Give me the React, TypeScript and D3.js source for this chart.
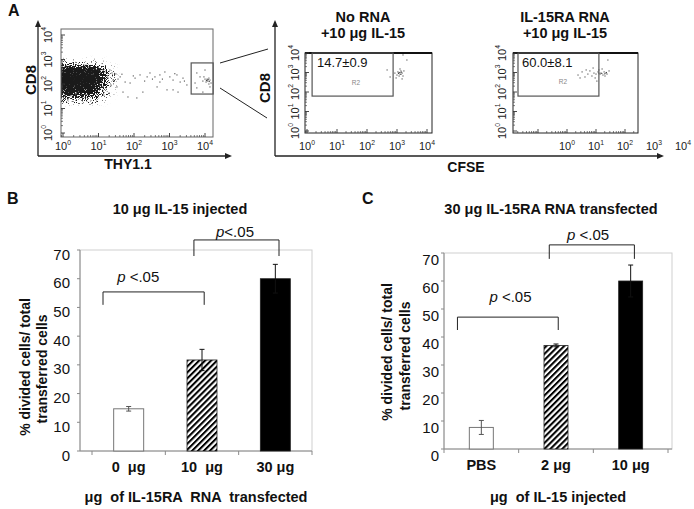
import React from 'react';
import * as d3 from 'd3';

const FONT = '"Liberation Sans", Arial, Helvetica, sans-serif';
const W = 694;
const H = 509;

// ---------- Panel B data ----------
const bCategories = ['0  μg', '10  μg', '30 μg'];
const bValues = [14.7, 31.7, 60.0];
const bErrors = [0.8, 3.7, 5.0];
const bBrackets = [
  { from: -0.35, to: 1.03, top: 55.4, leg: 50.9, label: ' <.05', at: 0.13, labelVal: 58.9 },
  { from: 0.89, to: 2.05, top: 73.5, leg: 67.9, label: '<.05', at: 1.45, labelVal: 74.5 },
];

// ---------- Panel C data ----------
const cCategories = ['PBS', '2 μg', '10 μg'];
const cValues = [7.7, 37.0, 60.0];
const cErrors = [2.5, 0.5, 5.7];
const cBrackets = [
  { from: -0.32, to: 1.03, top: 47.1, leg: 42.5, label: ' <.05', at: 0.39, labelVal: 52.5 },
  { from: 0.91, to: 2.05, top: 72.9, leg: 67.9, label: ' <.05', at: 1.43, labelVal: 74.6 },
];

const yTickValues = [0, 10, 20, 30, 40, 50, 60, 70];
const barStyles = ['open', 'hatch', 'solid'];

// ---------- Panel A data (log10 values) ----------
const decades = [0, 1, 2, 3, 4];
const cloudXStarts = [-0.25, 0, 0.25, 0.5, 0.75, 1.0, 1.25];
const cloudYStarts = [2.75, 2.5, 2.25, 2.0, 1.75, 1.5, 1.25];
const cloudDensity = [
  [0.15, 0.15, 0.15, 0.15, 0.1, 0.05, 0],
  [0.9, 0.9, 0.95, 0.95, 0.9, 0.5, 0.12],
  [1, 1, 1, 1, 1, 0.7, 0.2],
  [1, 1, 1, 1, 1, 0.7, 0.2],
  [0.95, 0.95, 0.95, 0.95, 0.9, 0.5, 0.1],
  [0.85, 0.85, 0.85, 0.85, 0.8, 0.35, 0.05],
  [0.4, 0.4, 0.4, 0.4, 0.35, 0.12, 0],
];
const thyTrail: [number, number][] = [
  [1.27, 2.24], [1.41, 2.16], [1.61, 2.29], [1.75, 2.08], [1.89, 2.04], [2.03, 2.24],
  [2.17, 2.37], [2.37, 2.29], [2.45, 2.45], [2.59, 2.29], [2.73, 2.37], [2.87, 2.49],
  [3.01, 2.29], [3.1, 2.16], [3.21, 2.37], [3.3, 2.08], [3.38, 2.24], [3.49, 1.96],
  [1.83, 1.47], [2.08, 1.43], [2.25, 1.67], [1.69, 1.67], [1.52, 1.88], [2.65, 1.88],
  [2.93, 1.76], [3.1, 1.76], [3.24, 1.67], [2.73, 2.08], [1.18, 2.49], [1.32, 2.57],
  [1.21, 1.84], [1.35, 1.96], [1.49, 2.41], [1.15, 1.55], [1.3, 1.63],
  [1.25, 2.33], [1.38, 2.45], [1.45, 2.12], [1.55, 2.2], [1.66, 2.4], [1.98, 2.33],
  [2.3, 2.12], [2.52, 2.2], [2.8, 2.2], [3.15, 2.42], [3.42, 2.12],
];
const thyGated: [number, number][] = [
  [4.0, 2.2], [4.06, 2.16], [4.11, 2.24], [4.03, 2.08], [4.08, 2.12], [4.14, 2.16],
  [3.97, 2.29], [4.17, 2.04], [3.94, 2.12], [4.11, 2.0], [3.77, 2.45], [3.77, 1.84],
  [3.94, 1.67], [4.14, 1.88], [4.0, 2.57], [3.86, 2.29], [3.72, 2.04], [4.06, 2.2],
  [4.09, 2.18], [4.04, 2.14], [4.12, 2.1],
];
const noRnaPoints: [number, number][] = [
  [3.03, 3.03], [3.1, 2.92], [3.13, 3.08], [3.07, 2.82], [3.17, 2.97], [3.0, 2.87],
  [3.2, 2.82], [3.1, 3.18], [2.97, 2.72], [3.23, 3.08], [2.93, 2.97], [3.17, 2.67],
  [2.67, 3.13], [2.77, 2.77], [3.2, 3.9], [3.33, 3.64], [3.07, 3.0], [3.13, 2.9],
  [3.1, 3.0], [3.05, 2.95], [3.15, 3.02],
];
const il15raPoints: [number, number][] = [
  [0.38, 2.87], [0.52, 3.03], [0.62, 2.77], [0.72, 2.92], [0.79, 3.08], [0.86, 2.82],
  [0.93, 2.97], [1.0, 2.92], [1.07, 3.03], [1.14, 2.92], [1.17, 2.97], [1.24, 2.87],
  [1.28, 3.03], [1.34, 2.97], [1.38, 2.92], [0.97, 2.72], [1.1, 3.13], [1.21, 3.18],
  [1.31, 2.82], [1.03, 2.56], [0.9, 3.23], [1.45, 3.08], [1.41, 3.64], [0.66, 3.13],
  [0.45, 2.72], [1.2, 2.95], [1.36, 3.0], [1.1, 2.97], [1.3, 2.93],
];
const gateLabels = ['14.7±0.9', '60.0±8.1'];

// ---------- helpers ----------
type Geo = {
  axisX: number; band: [number, number]; y0: number; y70: number; frameRight: number;
  barW: number; tickDx: number; labelDy: number; catY: number;
};

function BarPanel({ cats, vals, errs, brackets, g, pid }: any) {
  const geo: Geo = g;
  const y = d3.scaleLinear().domain([0, 70]).range([geo.y0, geo.y70]);
  const step = (geo.band[1] - geo.band[0]) / cats.length;
  const pad = 1 - geo.barW / step;
  const x = d3.scaleBand<string>().domain(cats).range(geo.band).paddingInner(pad).paddingOuter(pad / 2);
  const bw = x.bandwidth();
  const cx = (i: number) => (x(cats[i]) as number) + bw / 2;
  const idx = d3.scaleLinear().domain([0, cats.length - 1]).range([cx(0), cx(cats.length - 1)]);
  const tickXs = d3.range(cats.length + 1).map((k) => geo.band[0] + k * step);
  return (
    <g>
      <defs>
        <pattern id={pid} patternUnits="userSpaceOnUse" width={4.2} height={4.2} patternTransform="rotate(45)">
          <rect width={4.2} height={4.2} fill="white" />
          <line x1={1} y1={0} x2={1} y2={4.2} stroke="black" strokeWidth={2.1} />
        </pattern>
      </defs>
      <rect x={geo.axisX} y={y(70)} width={geo.frameRight - geo.axisX} height={y(0) - y(70)}
        fill="none" stroke="#cfcfcf" strokeWidth={1} />
      <line x1={geo.axisX} x2={geo.axisX} y1={y(0)} y2={y(70)} stroke="#8a8a8a" />
      {yTickValues.map((t) => (
        <g key={t}>
          <line x1={geo.axisX - 3} x2={geo.axisX} y1={y(t)} y2={y(t)} stroke="#8a8a8a" />
          <text x={geo.axisX - geo.tickDx} y={y(t) + geo.labelDy} textAnchor="end"
            dominantBaseline="central" fontSize={15} fill="#111">{t}</text>
        </g>
      ))}
      <line x1={geo.axisX} x2={geo.frameRight} y1={y(0)} y2={y(0)} stroke="#8a8a8a" />
      {tickXs.map((tx, i) => (
        <line key={i} x1={tx} x2={tx} y1={y(0)} y2={y(0) + 4} stroke="#8a8a8a" />
      ))}
      {vals.map((v: number, i: number) => {
        const st = barStyles[i];
        const fill = st === 'open' ? 'white' : st === 'hatch' ? `url(#${pid})` : 'black';
        const stroke = st === 'open' ? '#777' : '#222';
        return (
          <rect key={i} x={x(cats[i])} y={y(v)} width={bw} height={y(0) - y(v)}
            fill={fill} stroke={stroke} strokeWidth={st === 'open' ? 1 : 0.8} />
        );
      })}
      {vals.map((v: number, i: number) => {
        const e = errs[i];
        const c = cx(i);
        const col = barStyles[i] === 'open' ? '#555' : '#111';
        return (
          <g key={i} stroke={col} strokeWidth={1}>
            <line x1={c} x2={c} y1={y(v + e)} y2={y(v - e)} />
            <line x1={c - 2.5} x2={c + 2.5} y1={y(v + e)} y2={y(v + e)} />
            <line x1={c - 2.5} x2={c + 2.5} y1={y(v - e)} y2={y(v - e)} />
          </g>
        );
      })}
      {brackets.map((b: any, i: number) => (
        <g key={i}>
          <path d={`M${idx(b.from)},${y(b.leg)}V${y(b.top)}H${idx(b.to)}V${y(b.leg)}`}
            fill="none" stroke="#222" strokeWidth={1} />
          <text x={idx(b.at)} y={y(b.labelVal)} textAnchor="middle" fontSize={15} fill="#111"
            style={{ whiteSpace: 'pre' }}>
            <tspan fontStyle="italic">p</tspan>{b.label}
          </text>
        </g>
      ))}
      {cats.map((c: string, i: number) => (
        <text key={c} x={cx(i)} y={geo.catY} textAnchor="middle" fontSize={14.5} fontWeight="bold"
          fill="#111" style={{ whiteSpace: 'pre' }}>{c}</text>
      ))}
    </g>
  );
}

function Sup({ k, size }: { k: number; size: number }) {
  return (
    <>
      <tspan>10</tspan>
      <tspan dy={-size * 0.45} fontSize={size * 0.62}>{k}</tspan>
    </>
  );
}

function FlowPlot({ xRange, yRange, frame, gate, points, xLabelY, yLabelX, xLabelDecades,
  children, gateText, textPos, r2Pos, thickTop, frameColor }: any) {
  const x = d3.scaleLog().domain([1, 1e4]).range(xRange);
  const y = d3.scaleLog().domain([1, 1e4]).range(yRange);
  const px = (d: number) => x(Math.pow(10, d));
  const py = (d: number) => y(Math.pow(10, d));
  const minorX: number[] = [];
  const majorX: number[] = [];
  for (let k = -3; k <= 4; k++) {
    const p = px(k);
    if (p >= frame.x1 - 0.5 && p <= frame.x2 + 0.5) majorX.push(p);
    for (let m = 2; m <= 9; m++) {
      const q = px(k + Math.log10(m));
      if (q >= frame.x1 && q <= frame.x2) minorX.push(q);
    }
  }
  const minorY: number[] = [];
  const majorY: number[] = [];
  for (let k = 0; k <= 4; k++) {
    majorY.push(py(k));
    if (k < 4) for (let m = 2; m <= 9; m++) minorY.push(py(k + Math.log10(m)));
  }
  return (
    <g>
      {children && children(px, py)}
      {points.map((p: [number, number], i: number) => (
        <rect key={i} x={px(p[0]) - 0.55} y={py(p[1]) - 0.55} width={1.1} height={1.1} fill="#444" />
      ))}
      <rect x={frame.x1} y={frame.y1} width={frame.x2 - frame.x1} height={frame.y2 - frame.y1}
        fill="none" stroke={frameColor} strokeWidth={1} />
      {thickTop && <line x1={frame.x1} x2={frame.x2} y1={frame.y1} y2={frame.y1} stroke="#111" strokeWidth={2} />}
      {minorX.map((q, i) => (<line key={i} x1={q} x2={q} y1={frame.y2} y2={frame.y2 - 2} stroke="#444" strokeWidth={0.7} />))}
      {majorX.map((q, i) => (<line key={i} x1={q} x2={q} y1={frame.y2} y2={frame.y2 - 4} stroke="#333" strokeWidth={0.9} />))}
      {minorY.map((q, i) => (<line key={i} x1={frame.x1} x2={frame.x1 + 2} y1={q} y2={q} stroke="#444" strokeWidth={0.7} />))}
      {majorY.map((q, i) => (<line key={i} x1={frame.x1} x2={frame.x1 + 4} y1={q} y2={q} stroke="#333" strokeWidth={0.9} />))}
      <rect x={px(gate.x1)} y={py(gate.y2)} width={px(gate.x2) - px(gate.x1)} height={py(gate.y1) - py(gate.y2)}
        fill="none" stroke="#555" strokeWidth={1.2} />
      {gateText && (
        <text x={textPos[0]} y={textPos[1]} fontSize={13} fill="#111">{gateText}</text>
      )}
      {r2Pos && (
        <text x={r2Pos[0]} y={r2Pos[1]} fontSize={6.5} fill="#888" textAnchor="middle">R2</text>
      )}
      {(xLabelDecades as number[]).map((k) => (
        <text key={k} x={px(k)} y={xLabelY} textAnchor="middle" fontSize={11} fill="#222">
          <Sup k={k} size={11} />
        </text>
      ))}
      {decades.map((k) => (
        <g key={k} transform={`translate(${yLabelX},${py(k)}) rotate(-90)`}>
          <text x={0} y={0} textAnchor="middle" dominantBaseline="central" fontSize={11} fill="#222">
            <Sup k={k} size={11} />
          </text>
        </g>
      ))}
    </g>
  );
}

function Arrow({ x1, y1, x2, y2 }: any) {
  const ang = Math.atan2(y2 - y1, x2 - x1);
  const L = 7, Wd = 3;
  const bx = x2 - L * Math.cos(ang), by = y2 - L * Math.sin(ang);
  const nx = -Math.sin(ang) * Wd, ny = Math.cos(ang) * Wd;
  return (
    <g>
      <line x1={x1} y1={y1} x2={bx} y2={by} stroke="#222" strokeWidth={1.3} />
      <path d={`M${x2},${y2}L${bx + nx},${by + ny}L${bx - nx},${by - ny}Z`} fill="#222" />
    </g>
  );
}

export default function App() {
  const leftFrame = { x1: 61, x2: 213, y1: 29, y2: 137 };
  const midFrame = { x1: 305, x2: 432, y1: 53, y2: 133 };
  const rightFrame = { x1: 513, x2: 638, y1: 53, y2: 133 };

  return (
    <svg width={W} height={H} viewBox={`0 0 ${W} ${H}`}
      style={{ position: 'absolute', left: 0, top: 0, background: 'white', fontFamily: FONT }}>
      <defs>
        <filter id="speckle" x="-10%" y="-10%" width="120%" height="120%" colorInterpolationFilters="sRGB">
          <feGaussianBlur in="SourceAlpha" stdDeviation={2.2} result="b" />
          <feTurbulence type="fractalNoise" baseFrequency={0.9} numOctaves={1} seed={4} result="n" />
          <feColorMatrix in="n" type="matrix" values="0 0 0 0 0  0 0 0 0 0  0 0 0 0 0  3 0 0 0 -1" result="na" />
          <feComposite in="b" in2="na" operator="arithmetic" k1={0} k2={5} k3={-4} k4={0.1} />
        </filter>
        <clipPath id="leftClip">
          <rect x={leftFrame.x1} y={leftFrame.y1} width={leftFrame.x2 - leftFrame.x1} height={leftFrame.y2 - leftFrame.y1} />
        </clipPath>
      </defs>
      <rect x={0} y={0} width={W} height={H} fill="white" />

      {/* ---------------- Panel A ---------------- */}
      <text x={8} y={16} fontSize={16} fontWeight="bold" fill="#111">A</text>
      <Arrow x1={38} y1={156} x2={38} y2={20} />
      <Arrow x1={38} y1={156} x2={232} y2={156} />
      <Arrow x1={275} y1={156} x2={275} y2={20} />
      <Arrow x1={275} y1={156} x2={664} y2={156} />
      <g transform="translate(30,80) rotate(-90)">
        <text textAnchor="middle" dominantBaseline="central" fontSize={15} fontWeight="bold" fill="#111">CD8</text>
      </g>
      <g transform="translate(264,88) rotate(-90)">
        <text textAnchor="middle" dominantBaseline="central" fontSize={15} fontWeight="bold" fill="#111">CD8</text>
      </g>
      <text x={128} y={169} textAnchor="middle" fontSize={14} fontWeight="bold" fill="#111">THY1.1</text>
      <text x={466} y={172} textAnchor="middle" fontSize={14} fontWeight="bold" fill="#111">CFSE</text>

      <FlowPlot xRange={[63, 205]} yRange={[133, 35]} frame={leftFrame}
        gate={{ x1: 3.61, x2: 4.23, y1: 1.59, y2: 2.86 }} points={[...thyTrail, ...thyGated]}
        xLabelY={150} yLabelX={48} xLabelDecades={decades} frameColor="#666">
        {(px: any, py: any) => (
          <g clipPath="url(#leftClip)">
            <g filter="url(#speckle)">
              {cloudDensity.map((row, ri) => row.map((d, ci) => (
                <rect key={`${ri}-${ci}`} x={px(cloudXStarts[ci])} y={py(cloudYStarts[ri] + 0.25)}
                  width={px(cloudXStarts[ci] + 0.25) - px(cloudXStarts[ci])}
                  height={py(cloudYStarts[ri]) - py(cloudYStarts[ri] + 0.25)}
                  fill="black" fillOpacity={d} />
              )))}
            </g>
          </g>
        )}
      </FlowPlot>
      <line x1={220} y1={63} x2={268} y2={49} stroke="#222" strokeWidth={1} />
      <line x1={220} y1={88} x2={267} y2={118} stroke="#222" strokeWidth={1} />

      <text x={363} y={22} textAnchor="middle" fontSize={14.5} fontWeight="bold" fill="#111">No RNA</text>
      <text x={363} y={38} textAnchor="middle" fontSize={14.5} fontWeight="bold" fill="#111">+10 μg IL-15</text>
      <text x={565} y={22} textAnchor="middle" fontSize={14.5} fontWeight="bold" fill="#111">IL-15RA RNA</text>
      <text x={565} y={38} textAnchor="middle" fontSize={14.5} fontWeight="bold" fill="#111">+10 μg IL-15</text>

      <FlowPlot xRange={[307, 427]} yRange={[131, 53]} frame={midFrame}
        gate={{ x1: 0.17, x2: 2.87, y1: 1.79, y2: 4.0 }} points={noRnaPoints}
        xLabelY={150} yLabelX={295} xLabelDecades={decades} gateText={gateLabels[0]}
        textPos={[317, 67]} r2Pos={[356, 85]} thickTop frameColor="#222" />
      <FlowPlot xRange={[567, 683]} yRange={[131, 53]} frame={rightFrame}
        gate={{ x1: -1.69, x2: 1.1, y1: 1.79, y2: 4.0 }} points={il15raPoints}
        xLabelY={150} yLabelX={502} xLabelDecades={decades} gateText={gateLabels[1]}
        textPos={[522, 67]} r2Pos={[563, 84]} thickTop frameColor="#222" />

      {/* ---------------- Panel B ---------------- */}
      <text x={7} y={204} fontSize={16} fontWeight="bold" fill="#111">B</text>
      <text x={180} y={214} textAnchor="middle" fontSize={14.5} fontWeight="bold" fill="#111">10 μg IL-15 injected</text>
      <g transform="translate(25,367) rotate(-90)">
        <text textAnchor="middle" dominantBaseline="central" fontSize={14} fontWeight="bold" fill="#111">% divided cells/ total</text>
      </g>
      <g transform="translate(42,369) rotate(-90)">
        <text textAnchor="middle" dominantBaseline="central" fontSize={14} fontWeight="bold" fill="#111">transferred cells</text>
      </g>
      <BarPanel cats={bCategories} vals={bValues} errs={bErrors} brackets={bBrackets} pid="hatchB"
        g={{ axisX: 80, band: [92, 312], y0: 451, y70: 250, frameRight: 312, barW: 30, tickDx: 10, labelDy: 4, catY: 472 }} />
      <text x={196} y={502} textAnchor="middle" fontSize={14.5} fontWeight="bold" fill="#111"
        style={{ whiteSpace: 'pre' }}>μg  of IL-15RA  RNA  transfected</text>

      {/* ---------------- Panel C ---------------- */}
      <text x={362} y={204} fontSize={16} fontWeight="bold" fill="#111">C</text>
      <text x={551} y={214} textAnchor="middle" fontSize={14.5} fontWeight="bold" fill="#111">30 μg IL-15RA RNA transfected</text>
      <g transform="translate(387,352) rotate(-90)">
        <text textAnchor="middle" dominantBaseline="central" fontSize={14} fontWeight="bold" fill="#111">% divided cells/ total</text>
      </g>
      <g transform="translate(405,356) rotate(-90)">
        <text textAnchor="middle" dominantBaseline="central" fontSize={14} fontWeight="bold" fill="#111">transferred cells</text>
      </g>
      <BarPanel cats={cCategories} vals={cValues} errs={cErrors} brackets={cBrackets} pid="hatchC"
        g={{ axisX: 444, band: [444, 668], y0: 449, y70: 253, frameRight: 672, barW: 24, tickDx: 5, labelDy: 6, catY: 470 }} />
      <text x={558} y={502} textAnchor="middle" fontSize={14.5} fontWeight="bold" fill="#111"
        style={{ whiteSpace: 'pre' }}>μg  of IL-15 injected</text>
    </svg>
  );
}
